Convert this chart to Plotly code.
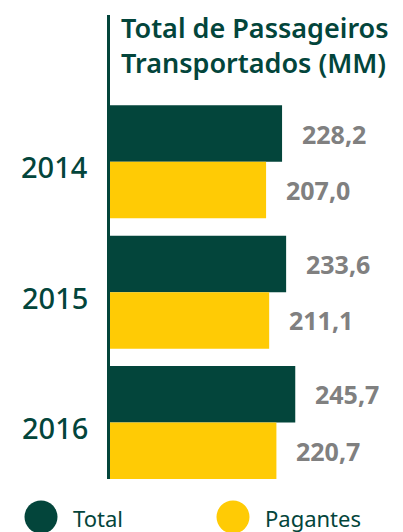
import plotly.graph_objects as go

years = ["2014", "2015", "2016"]
total = [228.2, 233.6, 245.7]
pagantes = [207.0, 211.1, 220.7]
series_names = ["Total", "Pagantes"]
title_text = "Total de Passageiros<br>Transportados (MM)"

GREEN = "#03453B"
YELLOW = "#FFCB05"
GRAY = "#808080"
FONT = "Noto Sans"

pos = list(range(len(years)))
W = 0.433

fig = go.Figure()
fig.add_trace(go.Bar(y=pos, x=total, orientation="h", width=W, offset=-W,
                     marker=dict(color=GREEN, line=dict(width=0)), name=series_names[0]))
fig.add_trace(go.Bar(y=pos, x=pagantes, orientation="h", width=W, offset=0,
                     marker=dict(color=YELLOW, line=dict(width=0)), name=series_names[1]))

def fmt(v):
    return f"{v:.1f}".replace(".", ",")

ann = []
for i, (t, p) in enumerate(zip(total, pagantes)):
    ann.append(dict(x=t, y=i - W / 2, text=fmt(t), xanchor="left", yanchor="middle",
                    xshift=18, showarrow=False,
                    font=dict(family=FONT, size=25, color=GRAY, weight="bold")))
    ann.append(dict(x=p, y=i + W / 2, text=fmt(p), xanchor="left", yanchor="middle",
                    xshift=18, showarrow=False,
                    font=dict(family=FONT, size=25, color=GRAY, weight="bold")))

# year labels
for i, yr in enumerate(years):
    ann.append(dict(x=0, y=i, text=yr, xanchor="right", yanchor="middle",
                    xshift=-20, yshift=-5, showarrow=False,
                    font=dict(family=FONT, size=29, color=GREEN, weight=500)))

# title
ann.append(dict(xref="paper", yref="paper", x=0, y=1, xshift=9, yshift=8,
                text=title_text, xanchor="left", yanchor="top", align="left",
                showarrow=False,
                font=dict(family=FONT, size=27, color=GREEN, weight=600)))

# legend (custom)
shapes = []
leg_x = [41, 233]
leg_colors = [GREEN, YELLOW]
for lx, c, name in zip(leg_x, leg_colors, series_names):
    shapes.append(dict(type="circle", xref="paper", yref="paper",
                       xsizemode="pixel", ysizemode="pixel",
                       xanchor=0, yanchor=0,
                       x0=lx - 110 - 16.5, x1=lx - 110 + 16.5,
                       y0=-38 - 16.5, y1=-38 + 16.5,
                       fillcolor=c, line=dict(width=0)))
    ann.append(dict(xref="paper", yref="paper", x=0, y=0,
                    xshift=lx - 110 + 30, yshift=-39,
                    text=name, xanchor="left", yanchor="middle", showarrow=False,
                    font=dict(family=FONT, size=22, color=GREEN)))

fig.update_layout(
    width=403, height=532,
    margin=dict(l=110, r=0, t=15, b=53, autoexpand=False),
    paper_bgcolor="white", plot_bgcolor="white",
    showlegend=False,
    barmode="overlay",
    annotations=ann,
    shapes=shapes,
    xaxis=dict(range=[0, 293 / 0.754], visible=False, fixedrange=True, automargin=False),
    yaxis=dict(range=[2 + W, -1.126], tickvals=pos, ticktext=years, automargin=False,
               showline=True, linecolor=GREEN, linewidth=3, ticks="",
               showticklabels=False,
               showgrid=False, zeroline=False),
)

fig.write_html("out.html", config={"displayModeBar": False},
               post_script="document.body.style.margin='0';document.body.style.overflow='hidden';")
